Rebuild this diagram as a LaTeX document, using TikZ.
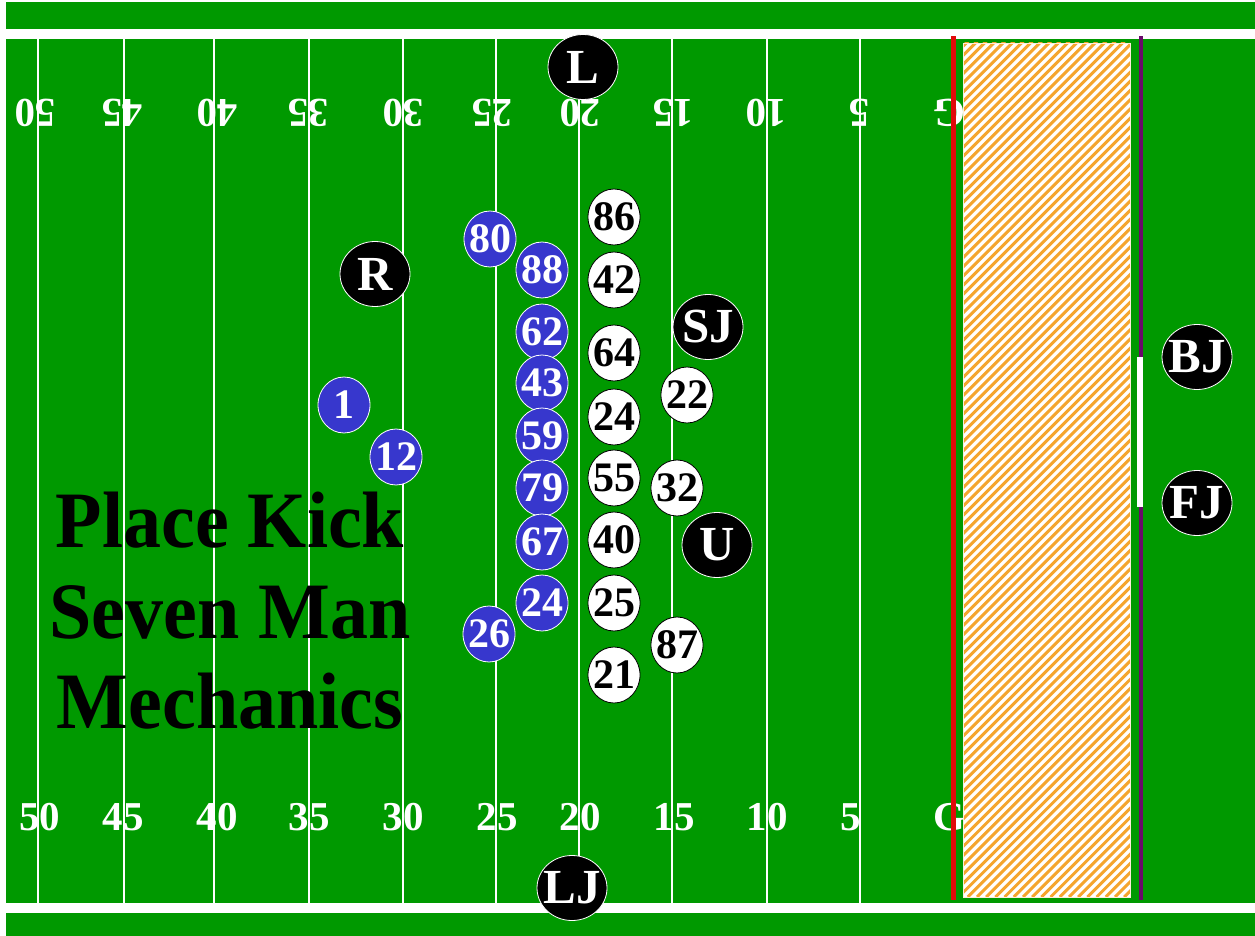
\documentclass[tikz,border=0pt]{standalone}
\usepackage{fontspec}
\setmainfont{Liberation Serif}
\usetikzlibrary{shapes.geometric}
\definecolor{field}{RGB}{0,153,0}
\definecolor{pblue}{RGB}{55,55,205}
\definecolor{goalred}{RGB}{225,10,10}
\definecolor{endpurple}{RGB}{105,10,105}
\definecolor{hatchor}{RGB}{245,165,45}
\begin{document}
\begin{tikzpicture}[x=1pt,y=-1pt,
  yardline/.style={draw=white,line width=1.3pt},
  ynum/.style={text=white,font=\fontsize{41}{41}\selectfont\bfseries,inner sep=0pt,anchor=base},
  ynumtop/.style={ynum,rotate=180},
  bp/.style={ellipse,fill=pblue,draw=white,line width=0.8pt,minimum width=52pt,minimum height=56pt,inner sep=0pt},
  wp/.style={ellipse,fill=white,draw=black,line width=0.8pt,minimum width=52pt,minimum height=56pt,inner sep=0pt},
  btxt/.style={text=white,font=\fontsize{42}{42}\selectfont\bfseries,inner sep=0pt},
  wtxt/.style={text=black,font=\fontsize{42}{42}\selectfont\bfseries,inner sep=0pt},
  off/.style={ellipse,fill=black,draw=white,line width=0.8pt,minimum width=70pt,minimum height=65pt,inner sep=0pt},
  offtxt/.style={text=white,font=\fontsize{49}{49}\selectfont\bfseries,inner sep=0pt},
  ttl/.style={font=\fontsize{80}{80}\selectfont\bfseries,text=black,anchor=base,inner sep=0pt}
]
\useasboundingbox (0,0) rectangle (1255,936);
\fill[white] (0,0) rectangle (1255,936);
\fill[field] (6,2) rectangle (1255,936);
% sidelines
\fill[white] (6,29) rectangle (1255,39);
\fill[white] (6,903) rectangle (1255,913);
% yard lines
\foreach \x in {38,124,214,309,403,496,579,672,767,860}{
  \draw[yardline] (\x,39) -- (\x,903);
}
% bottom numbers
\foreach \x/\t in {40/50,123/45,217/40,309/35,403/30,497/25,580/20,674/15,767/10,851/5,949/G}{
  \node[ynum] at (\x,830) {\t};
}
% top numbers (upside down)
\foreach \x/\t in {35/50,122/45,217/40,308/35,403/30,492/25,580/20,673/15,766/10,859/5,950/G}{
  \node[ynumtop] at (\x,100) {\t};
}
% goal line and end line
\fill[goalred] (951,36) rectangle (956,900);
\fill[endpurple] (1139,36) rectangle (1143,900);
% end zone hatch
\begin{scope}
  \clip (963,43) rectangle (1130,897);
  \fill[white] (963,43) rectangle (1130,897);
  \foreach \i in {0,...,112}{
    \draw[hatchor,line width=3pt] ({103+\i*9.2},897) -- ++(860,-860);
  }
\end{scope}
\draw[white!85!orange,line width=0.8pt] (963,43) rectangle (1130,897);
% goal post (white segment)
\fill[white] (1137,357) rectangle (1143,507);

% kicking team (blue)
\node[bp,label={[btxt]center:80}] (b80) at (490,239) {};
\node[bp,label={[btxt]center:88}] (b88) at (542,270) {};
\node[bp,label={[btxt]center:62}] (b62) at (542,332) {};
\node[bp,label={[btxt]center:43}] (b43) at (542,383) {};
\node[bp,label={[btxt]center:59}] (b59) at (542,436) {};
\node[bp,label={[btxt]center:79}] (b79) at (542,488) {};
\node[bp,label={[btxt]center:67}] (b67) at (542,542) {};
\node[bp,label={[btxt]center:24}] (b24) at (542,603) {};
\node[bp,label={[btxt]center:26}] (b26) at (489,634) {};
\node[bp,label={[btxt]center:1}] (b1) at (344,405) {};
\node[bp,label={[btxt]center:12}] (b12) at (396,457) {};

% receiving team (white)
\node[wp,label={[wtxt]center:86}] (w86) at (614,217) {};
\node[wp,label={[wtxt]center:42}] (w42) at (614,280) {};
\node[wp,label={[wtxt]center:64}] (w64) at (614,353) {};
\node[wp,label={[wtxt]center:24}] (w24) at (614,417) {};
\node[wp,label={[wtxt]center:55}] (w55) at (614,478) {};
\node[wp,label={[wtxt]center:40}] (w40) at (614,540) {};
\node[wp,label={[wtxt]center:25}] (w25) at (614,603) {};
\node[wp,label={[wtxt]center:21}] (w21) at (614,675) {};
\node[wp,label={[wtxt]center:22}] (w22) at (687,395) {};
\node[wp,label={[wtxt]center:32}] (w32) at (677,488) {};
\node[wp,label={[wtxt]center:87}] (w87) at (677,645) {};

% officials
\node[off,label={[offtxt]center:L}] (oL) at (583,67) {};
\node[off,label={[offtxt]center:LJ}] (oLJ) at (572,888) {};
\node[off,label={[offtxt]center:R}] (oR) at (375,274) {};
\node[off,label={[offtxt]center:SJ}] (oSJ) at (708,327) {};
\node[off,label={[offtxt]center:U}] (oU) at (717,545) {};
\node[off,label={[offtxt]center:BJ}] (oBJ) at (1197,357) {};
\node[off,label={[offtxt]center:FJ}] (oFJ) at (1197,503) {};

% title
\node[ttl] (t1) at (230,547) {\scalebox{0.95}[1]{Place Kick}};
\node[ttl] (t2) at (230,638) {\scalebox{0.95}[1]{Seven Man}};
\node[ttl] (t3) at (230,728) {\scalebox{0.95}[1]{Mechanics}};
\end{tikzpicture}
\end{document}
